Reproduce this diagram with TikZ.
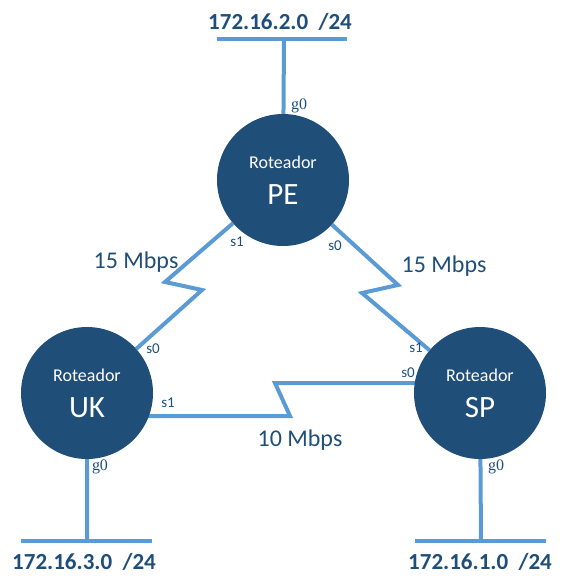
\documentclass[tikz,border=0pt]{standalone}
\usepackage{fontspec}
\setmainfont{Carlito}
\newfontfamily\gfont{Liberation Serif}
\usetikzlibrary{calc,backgrounds}
\definecolor{routerblue}{RGB}{31,78,121}
\definecolor{linkblue}{RGB}{91,155,213}
\tikzset{
router/.style={circle,fill=routerblue,text=white,minimum size=132pt,inner sep=0pt,align=center},
link/.style={draw=linkblue,line width=4pt},
port/.style={text=routerblue,font=\fontsize{15}{17}\selectfont,inner sep=0pt},
rate/.style={text=routerblue,font=\fontsize{24}{28}\selectfont,inner sep=0pt},
net/.style={text=routerblue,font=\bfseries\fontsize{23}{27}\selectfont,inner sep=0pt}
}
\newcommand{\rtname}[1]{\fontsize{18}{20}\selectfont Roteador\\[15pt]\fontsize{31}{36}\selectfont #1}

\begin{document}
\begin{tikzpicture}[x=1pt,y=-1pt,line join=miter]
\useasboundingbox (0,0) rectangle (565,582);
\node[router] (PE) at (283,180) {\rtname{PE}};
\node[router] (UK) at (87,393) {\rtname{UK}};
\node[router] (SP) at (480,393) {\rtname{SP}};
\path
(284,39) coordinate (N2)
(87,541) coordinate (N3)
(481,541) coordinate (N1)
(165,282) coordinate (A1)
(202,290) coordinate (A2)
(398,285) coordinate (B1)
(362,293) coordinate (B2)
(290,416) coordinate (C1)
(275,383) coordinate (C2)
;
\begin{scope}[on background layer]
\draw[link] (PE) -- (A1) -- (A2) -- (UK);
\draw[link] (PE) -- (B1) -- (B2) -- (SP);
\draw[link] (C1 -| UK) -- (C1) -- (C2) -- (C2 -| SP);
\draw[link] (PE) -- (N2) (UK) -- (N3) (SP) -- (N1);
\foreach \n/\l/\r in {N2/-67/63,N3/-66/65,N1/-66/65}
{\draw[link] ([xshift=\l]\n) -- ([xshift=\r]\n);}
\end{scope}
\node[net] (net2) at (280,22) {172.16.2.0 \ /24};
\node[net] (net3) at (84,562) {172.16.3.0 \ /24};
\node[net] (net1) at (480,562) {172.16.1.0 \ /24};
\node[rate] (r1) at (136,262) {15 Mbps};
\node[rate] (r2) at (444,266) {15 Mbps};
\node[rate] (r3) at (300,440) {10 Mbps};
\foreach \x/\y/\t [count=\i] in {237/242/s1,335/246/s0,153/349/s0,416/348/s1,408/373/s0,168/403/s1}
{\node[port] (p\i) at (\x,\y) {\t};}
\foreach \x/\y [count=\i] in {299/106,100/467,496/467}
{\node[port,font=\gfont\fontsize{16}{18}\selectfont] (g\i) at (\x,\y) {g0};}
\end{tikzpicture}
\end{document}
